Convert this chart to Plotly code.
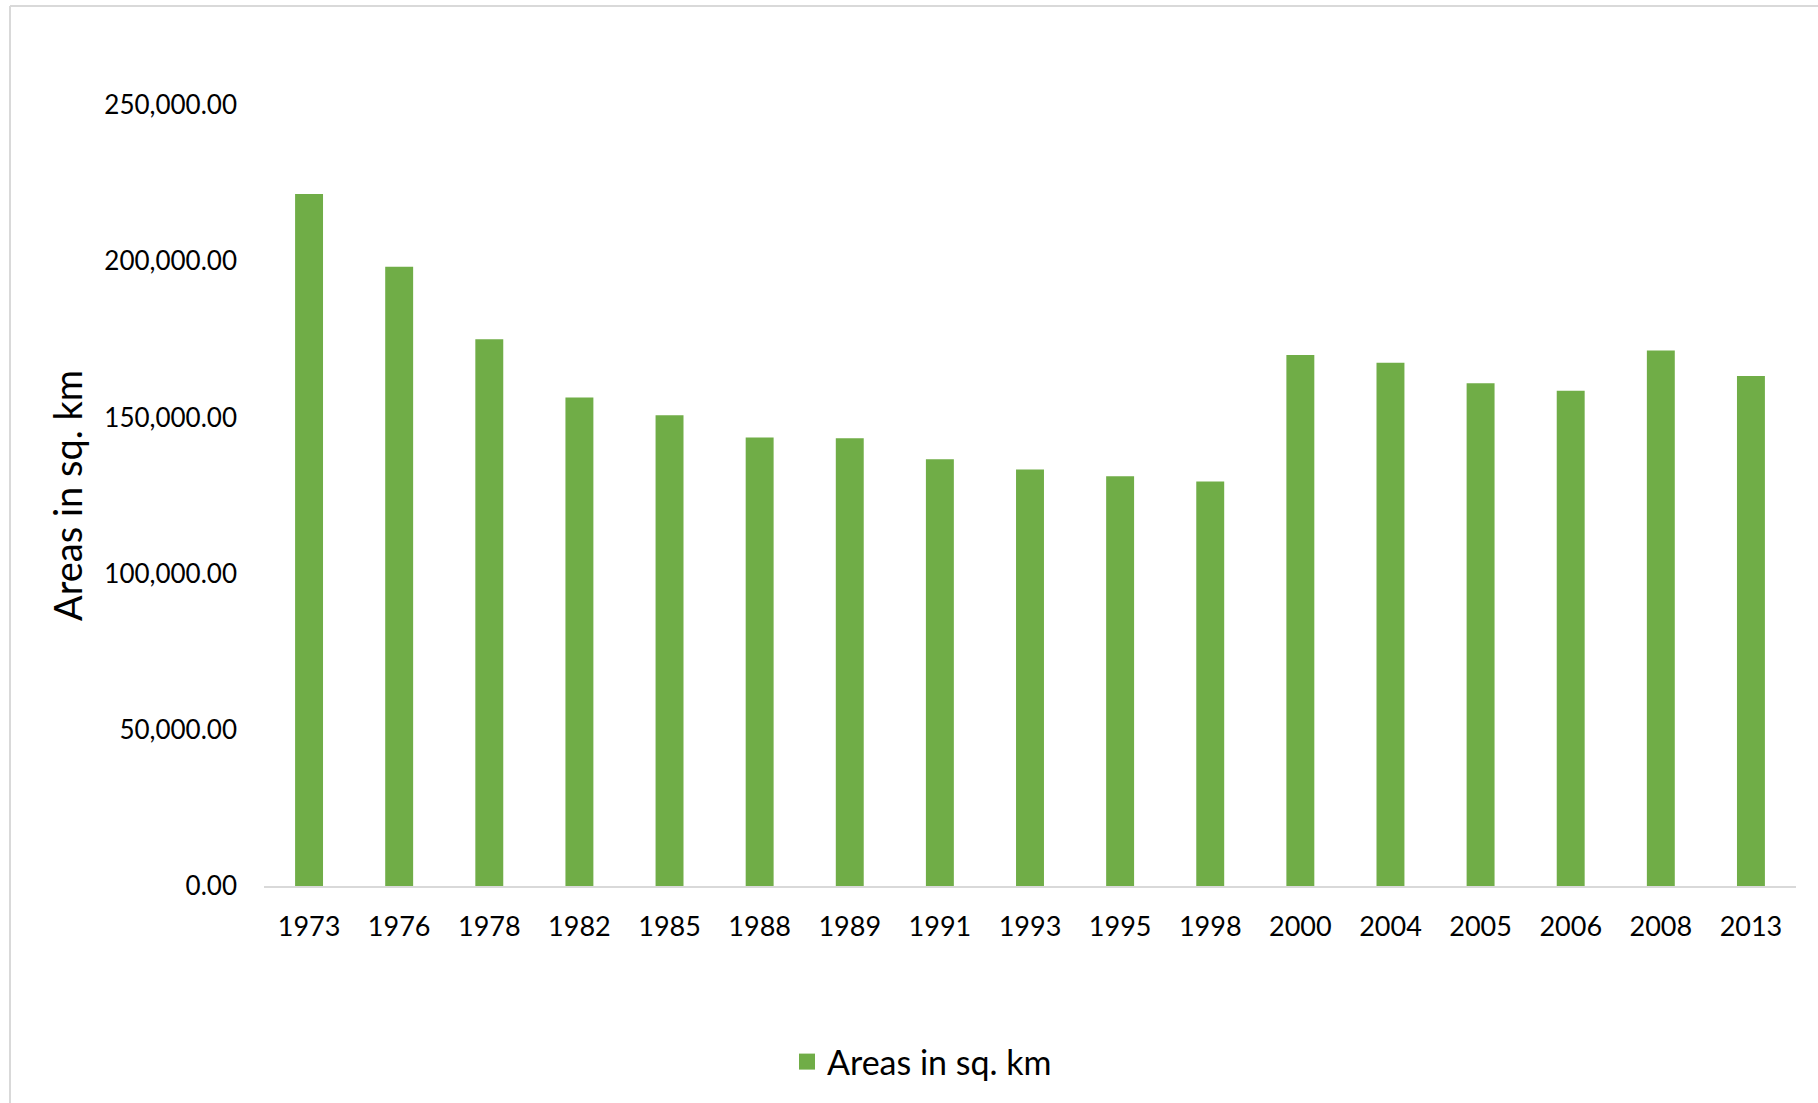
import plotly.graph_objects as go

years = ["1973", "1976", "1978", "1982", "1985", "1988", "1989", "1991", "1993",
         "1995", "1998", "2000", "2004", "2005", "2006", "2008", "2013"]
areas = [221500, 198200, 175000, 156400, 150700, 143600, 143300, 136600, 133300,
         131200, 129500, 170000, 167500, 160900, 158500, 171450, 163250]
y_ticks = [0, 50000, 100000, 150000, 200000, 250000]

W, H = 1818, 1103
ml, mr, mt, mb = 264, 22, 105, 217
pw, ph = W - ml - mr, H - mt - mb
green = "#70AD47"

fig = go.Figure()
fig.add_trace(go.Bar(
    x=years, y=areas, name="Areas in sq. km", showlegend=False,
    marker=dict(color=green, line=dict(width=0)),
))
# legend entry with a larger square key
fig.add_trace(go.Scatter(
    x=[years[0]], y=[None], mode="markers", name="Areas in sq. km",
    marker=dict(symbol="square", size=20, color=green), hoverinfo="skip",
))

def px(x):
    return (x - ml) / pw

def py(y):
    return (H - mb - y) / ph

border = "#D9D9D9"
fig.add_shape(type="line", xref="paper", yref="paper",
              x0=px(10), x1=px(10), y0=py(6), y1=py(1110),
              line=dict(color=border, width=2))
fig.add_shape(type="line", xref="paper", yref="paper",
              x0=px(10), x1=px(1818), y0=py(6), y1=py(6),
              line=dict(color=border, width=2))

fig.update_layout(
    width=W, height=H,
    margin=dict(l=ml, r=mr, t=mt, b=mb, autoexpand=False),
    paper_bgcolor="white", plot_bgcolor="white",
    bargap=0.69,
    font=dict(family="Lato, 'Open Sans', sans-serif", color="#000000"),
    showlegend=True,
    legend=dict(orientation="h", x=px(922), xanchor="center", y=py(1062), yanchor="middle",
                font=dict(size=34, color="#000000"), itemwidth=30),
    xaxis=dict(
        type="category", range=[-0.5, len(years) - 0.5],
        showgrid=False, showline=True, linecolor=border, linewidth=2,
        ticks="", tickfont=dict(size=27), ticklabelstandoff=16, automargin=False,
    ),
    yaxis=dict(
        range=[0, 250000], tickvals=y_ticks, tickformat=",.2f",
        showgrid=False, zeroline=False, showline=False, ticks="",
        tickfont=dict(size=26), ticklabelstandoff=26, automargin=False,
        title=dict(text="Areas in sq. km", font=dict(size=38), standoff=10),
    ),
)

fig.write_html("out.html")
